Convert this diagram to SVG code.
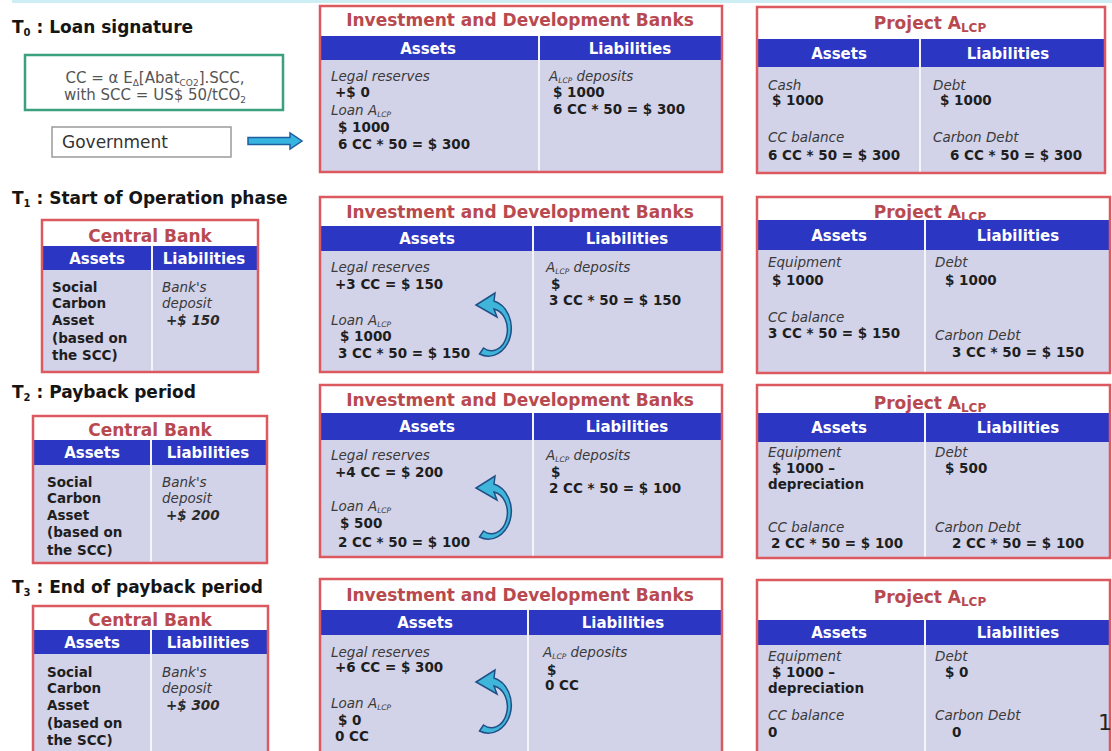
<svg xmlns="http://www.w3.org/2000/svg" xmlns:xlink="http://www.w3.org/1999/xlink" width="1112" height="751" viewBox="0 0 1112 751">
<style>
text{font-family:"DejaVu Sans",sans-serif}
.phase{font-weight:bold;font-size:17px;fill:#151515}
.ttl{font-weight:bold;font-size:17px;fill:#b84a4f;text-anchor:middle}
.hdr{font-weight:bold;font-size:15px;fill:#ffffff;text-anchor:middle}
.b{font-weight:bold;font-size:13.5px;fill:#1e1e1e}
.i{font-style:italic;font-size:13.5px;fill:#3a3a3a}
.bi{font-style:italic;font-weight:bold;font-size:13.5px;fill:#2a2a2a}
.sub{font-size:7.5px}
.bg{fill:#ffffff}
.head{fill:#2b36c2}
.body{fill:#d2d2e9}
.div{stroke:#f4f4fb;stroke-width:2}
.frame{fill:none;stroke:#dc5a5f;stroke-width:2.5}
.curl{fill:#3fb6d9;stroke:#1f4f86;stroke-width:1.5}
</style>
<defs>
<path id="curlShape" class="curl" d="M 479.5,354 A 23 28 0 1 0 494,301 L 495,293 L 476,305 L 497,317 L 494,309 A 16 21 0 1 1 483.5,348 Z"/>
</defs>
<line x1="12" y1="1.5" x2="1112" y2="1.5" stroke="#cdeef4" stroke-width="3"/>

<!-- Phase labels -->
<g id="phase-labels">
<text class="phase" x="12" y="33">T<tspan font-size="10" dy="3">0</tspan><tspan dy="-3"> : Loan signature</tspan></text>
<text class="phase" x="12" y="204">T<tspan font-size="10" dy="3">1</tspan><tspan dy="-3"> : Start of Operation phase</tspan></text>
<text class="phase" x="12" y="398">T<tspan font-size="10" dy="3">2</tspan><tspan dy="-3"> : Payback period</tspan></text>
<text class="phase" x="12" y="593">T<tspan font-size="10" dy="3">3</tspan><tspan dy="-3"> : End of payback period</tspan></text>
</g>

<!-- Formula box -->
<g id="formula">
<rect x="25" y="55" width="258" height="55" fill="#ffffff" stroke="#3aa080" stroke-width="2.5"/>
<text x="155" y="83" text-anchor="middle" font-size="15" fill="#555">CC = α E<tspan font-size="9" dy="3">Δ</tspan><tspan dy="-3">[Abat</tspan><tspan font-size="9" dy="3">CO2</tspan><tspan dy="-3">].SCC,</tspan></text>
<text x="155" y="100" text-anchor="middle" font-size="15" fill="#555">with SCC = US$ 50/tCO<tspan font-size="9" dy="3">2</tspan></text>
</g>

<!-- Government -->
<g id="government">
<rect x="52" y="127" width="179" height="30" fill="#ffffff" stroke="#9a9a9a" stroke-width="1.5"/>
<text x="62" y="148" font-size="17" fill="#333">Government</text>
</g>

<!-- T0 IDB -->
<g id="idb-t0">
<rect class="bg" x="320" y="6" width="402" height="166"/>
<rect class="head" x="321" y="36" width="400" height="24"/>
<rect class="body" x="321" y="60" width="400" height="111"/>
<line class="div" x1="539" y1="36" x2="539" y2="171"/>
<text class="ttl" x="520" y="26">Investment and Development Banks</text>
<text class="hdr" x="428" y="53.5">Assets</text>
<text class="hdr" x="630" y="53.5">Liabilities</text>
<text class="i" x="331" y="81">Legal reserves</text>
<text class="b" x="335" y="97">+$ 0</text>
<text class="i" x="331" y="115">Loan A<tspan class="sub" dy="2">LCP</tspan></text>
<text class="b" x="338" y="132">$ 1000</text>
<text class="b" x="338" y="149">6 CC * 50 = $ 300</text>
<text class="i" x="549" y="81">A<tspan class="sub" dy="2">LCP</tspan><tspan dy="-2"> deposits</tspan></text>
<text class="b" x="553" y="97">$ 1000</text>
<text class="b" x="553" y="114">6 CC * 50 = $ 300</text>
<rect class="frame" x="320" y="6" width="402" height="166"/>
</g>

<!-- T0 Project -->
<g id="project-t0">
<rect class="bg" x="757" y="7" width="348" height="166"/>
<rect class="head" x="758" y="39" width="346" height="28"/>
<rect class="body" x="758" y="67" width="346" height="105"/>
<line class="div" x1="920" y1="39" x2="920" y2="172"/>
<text class="ttl" x="930" y="29">Project  A<tspan font-size="12" dy="3">LCP</tspan></text>
<text class="hdr" x="839" y="58.5">Assets</text>
<text class="hdr" x="1008" y="58.5">Liabilities</text>
<text class="i" x="768" y="90">Cash</text>
<text class="b" x="772" y="105">$ 1000</text>
<text class="i" x="768" y="142">CC balance</text>
<text class="b" x="768" y="160">6 CC * 50 = $ 300</text>
<text class="i" x="933" y="90">Debt</text>
<text class="b" x="940" y="105">$ 1000</text>
<text class="i" x="933" y="142">Carbon Debt</text>
<text class="b" x="950" y="160">6 CC * 50 = $ 300</text>
<rect class="frame" x="757" y="7" width="348" height="166"/>
</g>

<!-- T1 Central Bank -->
<g id="cb-t1">
<rect class="bg" x="42" y="220" width="216" height="152"/>
<rect class="head" x="43" y="246" width="214" height="24"/>
<rect class="body" x="43" y="270" width="214" height="101"/>
<line class="div" x1="152" y1="246" x2="152" y2="371"/>
<text class="ttl" x="150" y="242">Central Bank</text>
<text class="hdr" x="97" y="264">Assets</text>
<text class="hdr" x="204" y="264">Liabilities</text>
<text class="b" x="52" y="292">Social</text>
<text class="b" x="52" y="308">Carbon</text>
<text class="b" x="52" y="325">Asset</text>
<text class="b" x="52" y="343">(based on</text>
<text class="b" x="52" y="360">the SCC)</text>
<text class="i" x="162" y="292">Bank's</text>
<text class="i" x="162" y="308">deposit</text>
<text class="bi" x="166" y="325">+$ 150</text>
<rect class="frame" x="42" y="220" width="216" height="152"/>
</g>

<!-- T1 IDB -->
<g id="idb-t1">
<rect class="bg" x="320" y="197" width="402" height="175"/>
<rect class="head" x="321" y="226" width="400" height="25"/>
<rect class="body" x="321" y="251" width="400" height="120"/>
<line class="div" x1="533" y1="226" x2="533" y2="371"/>
<text class="ttl" x="520" y="218">Investment and Development Banks</text>
<text class="hdr" x="427" y="244">Assets</text>
<text class="hdr" x="627" y="244">Liabilities</text>
<text class="i" x="331" y="272">Legal reserves</text>
<text class="b" x="335" y="289">+3 CC = $ 150</text>
<text class="i" x="331" y="325">Loan A<tspan class="sub" dy="2">LCP</tspan></text>
<text class="b" x="340" y="341">$ 1000</text>
<text class="b" x="338" y="358">3 CC * 50 = $ 150</text>
<text class="i" x="546" y="272">A<tspan class="sub" dy="2">LCP</tspan><tspan dy="-2"> deposits</tspan></text>
<text class="b" x="551" y="289">$</text>
<text class="b" x="549" y="305">3 CC * 50 = $ 150</text>
<rect class="frame" x="320" y="197" width="402" height="175"/>
</g>

<!-- T1 Project -->
<g id="project-t1">
<rect class="bg" x="757" y="197" width="353" height="176"/>
<text class="ttl" x="930" y="218">Project  A<tspan font-size="12" dy="3">LCP</tspan></text>
<rect class="head" x="758" y="220" width="351" height="30"/>
<rect class="body" x="758" y="250" width="351" height="122"/>
<line class="div" x1="925" y1="220" x2="925" y2="372"/>
<text class="hdr" x="839" y="240.5">Assets</text>
<text class="hdr" x="1018" y="240.5">Liabilities</text>
<text class="i" x="768" y="267">Equipment</text>
<text class="b" x="772" y="285">$ 1000</text>
<text class="i" x="768" y="322">CC balance</text>
<text class="b" x="768" y="338">3 CC * 50 = $ 150</text>
<text class="i" x="935" y="267">Debt</text>
<text class="b" x="945" y="285">$ 1000</text>
<text class="i" x="935" y="340">Carbon Debt</text>
<text class="b" x="952" y="357">3 CC * 50 = $ 150</text>
<rect class="frame" x="757" y="197" width="353" height="176"/>
</g>

<!-- T2 Central Bank -->
<g id="cb-t2">
<rect class="bg" x="33" y="416" width="234" height="147"/>
<rect class="head" x="34" y="440" width="232" height="25"/>
<rect class="body" x="34" y="465" width="232" height="97"/>
<line class="div" x1="151" y1="440" x2="151" y2="562"/>
<text class="ttl" x="150" y="436">Central Bank</text>
<text class="hdr" x="92" y="458">Assets</text>
<text class="hdr" x="208" y="458">Liabilities</text>
<text class="b" x="47" y="487">Social</text>
<text class="b" x="47" y="503">Carbon</text>
<text class="b" x="47" y="520">Asset</text>
<text class="b" x="47" y="537">(based on</text>
<text class="b" x="47" y="555">the SCC)</text>
<text class="i" x="162" y="487">Bank's</text>
<text class="i" x="162" y="503">deposit</text>
<text class="bi" x="166" y="520">+$ 200</text>
<rect class="frame" x="33" y="416" width="234" height="147"/>
</g>

<!-- T2 IDB -->
<g id="idb-t2">
<rect class="bg" x="320" y="385" width="402" height="172"/>
<rect class="head" x="321" y="413" width="400" height="27"/>
<rect class="body" x="321" y="440" width="400" height="116"/>
<line class="div" x1="533" y1="413" x2="533" y2="556"/>
<text class="ttl" x="520" y="406">Investment and Development Banks</text>
<text class="hdr" x="427" y="432">Assets</text>
<text class="hdr" x="627" y="432">Liabilities</text>
<text class="i" x="331" y="460">Legal reserves</text>
<text class="b" x="335" y="477">+4 CC = $ 200</text>
<text class="i" x="331" y="511">Loan A<tspan class="sub" dy="2">LCP</tspan></text>
<text class="b" x="340" y="528">$ 500</text>
<text class="b" x="338" y="547">2 CC * 50 = $ 100</text>
<text class="i" x="546" y="460">A<tspan class="sub" dy="2">LCP</tspan><tspan dy="-2"> deposits</tspan></text>
<text class="b" x="551" y="477">$</text>
<text class="b" x="549" y="493">2 CC * 50 = $ 100</text>
<rect class="frame" x="320" y="385" width="402" height="172"/>
</g>

<!-- T2 Project -->
<g id="project-t2">
<rect class="bg" x="757" y="385" width="353" height="173"/>
<rect class="head" x="758" y="413" width="351" height="29"/>
<rect class="body" x="758" y="442" width="351" height="115"/>
<line class="div" x1="925" y1="413" x2="925" y2="557"/>
<text class="ttl" x="930" y="409">Project  A<tspan font-size="12" dy="3">LCP</tspan></text>
<text class="hdr" x="839" y="433">Assets</text>
<text class="hdr" x="1018" y="433">Liabilities</text>
<text class="i" x="768" y="457">Equipment</text>
<text class="b" x="772" y="473">$ 1000 –</text>
<text class="b" x="768" y="489">depreciation</text>
<text class="i" x="768" y="532">CC balance</text>
<text class="b" x="771" y="548">2 CC * 50 = $ 100</text>
<text class="i" x="935" y="457">Debt</text>
<text class="b" x="945" y="473">$ 500</text>
<text class="i" x="935" y="532">Carbon Debt</text>
<text class="b" x="952" y="548">2 CC * 50 = $ 100</text>
<rect class="frame" x="757" y="385" width="353" height="173"/>
</g>

<!-- T3 Central Bank -->
<g id="cb-t3">
<rect class="bg" x="33" y="606" width="235" height="150"/>
<rect class="head" x="34" y="630" width="233" height="24"/>
<rect class="body" x="34" y="654" width="233" height="101"/>
<line class="div" x1="151" y1="630" x2="151" y2="755"/>
<text class="ttl" x="150" y="626">Central Bank</text>
<text class="hdr" x="92" y="647.5">Assets</text>
<text class="hdr" x="208" y="647.5">Liabilities</text>
<text class="b" x="47" y="677">Social</text>
<text class="b" x="47" y="693">Carbon</text>
<text class="b" x="47" y="710">Asset</text>
<text class="b" x="47" y="728">(based on</text>
<text class="b" x="47" y="745">the SCC)</text>
<text class="i" x="162" y="677">Bank's</text>
<text class="i" x="162" y="693">deposit</text>
<text class="bi" x="166" y="710">+$ 300</text>
<rect class="frame" x="33" y="606" width="235" height="150"/>
</g>

<!-- T3 IDB -->
<g id="idb-t3">
<rect class="bg" x="320" y="579" width="402" height="180"/>
<rect class="head" x="321" y="610" width="400" height="25"/>
<rect class="body" x="321" y="635" width="400" height="120"/>
<line class="div" x1="528" y1="610" x2="528" y2="755"/>
<text class="ttl" x="520" y="601">Investment and Development Banks</text>
<text class="hdr" x="425" y="627.5">Assets</text>
<text class="hdr" x="623" y="627.5">Liabilities</text>
<text class="i" x="331" y="657">Legal reserves</text>
<text class="b" x="335" y="672">+6 CC = $ 300</text>
<text class="i" x="331" y="708">Loan A<tspan class="sub" dy="2">LCP</tspan></text>
<text class="b" x="338" y="725">$ 0</text>
<text class="b" x="335" y="741">0 CC</text>
<text class="i" x="543" y="657">A<tspan class="sub" dy="2">LCP</tspan><tspan dy="-2"> deposits</tspan></text>
<text class="b" x="547" y="675">$</text>
<text class="b" x="545" y="690">0 CC</text>
<rect class="frame" x="320" y="579" width="402" height="180"/>
</g>

<!-- T3 Project -->
<g id="project-t3">
<rect class="bg" x="757" y="580" width="353" height="180"/>
<rect class="head" x="758" y="620" width="351" height="25"/>
<rect class="body" x="758" y="645" width="351" height="110"/>
<line class="div" x1="925" y1="620" x2="925" y2="755"/>
<text class="ttl" x="930" y="603">Project  A<tspan font-size="12" dy="3">LCP</tspan></text>
<text class="hdr" x="839" y="638">Assets</text>
<text class="hdr" x="1018" y="638">Liabilities</text>
<text class="i" x="768" y="661">Equipment</text>
<text class="b" x="772" y="677">$ 1000 –</text>
<text class="b" x="768" y="693">depreciation</text>
<text class="i" x="768" y="720">CC balance</text>
<text class="b" x="768" y="737">0</text>
<text class="i" x="935" y="661">Debt</text>
<text class="b" x="945" y="677">$ 0</text>
<text class="i" x="935" y="720">Carbon Debt</text>
<text class="b" x="952" y="737">0</text>
<rect class="frame" x="757" y="580" width="353" height="180"/>
</g>

<text x="1098" y="730" font-size="22" fill="#222">1</text>

<!-- Connectors -->
<g id="connectors">
<path d="M 248,137.5 L 290,137.5 L 290,133 L 302,141 L 290,149 L 290,144.5 L 248,144.5 Z" fill="#37b4e0" stroke="#1f5fa0" stroke-width="1.5"/>
<use xlink:href="#curlShape"/>
<use xlink:href="#curlShape" transform="translate(0,183)"/>
<use xlink:href="#curlShape" transform="translate(0,377)"/>
</g>
</svg>
